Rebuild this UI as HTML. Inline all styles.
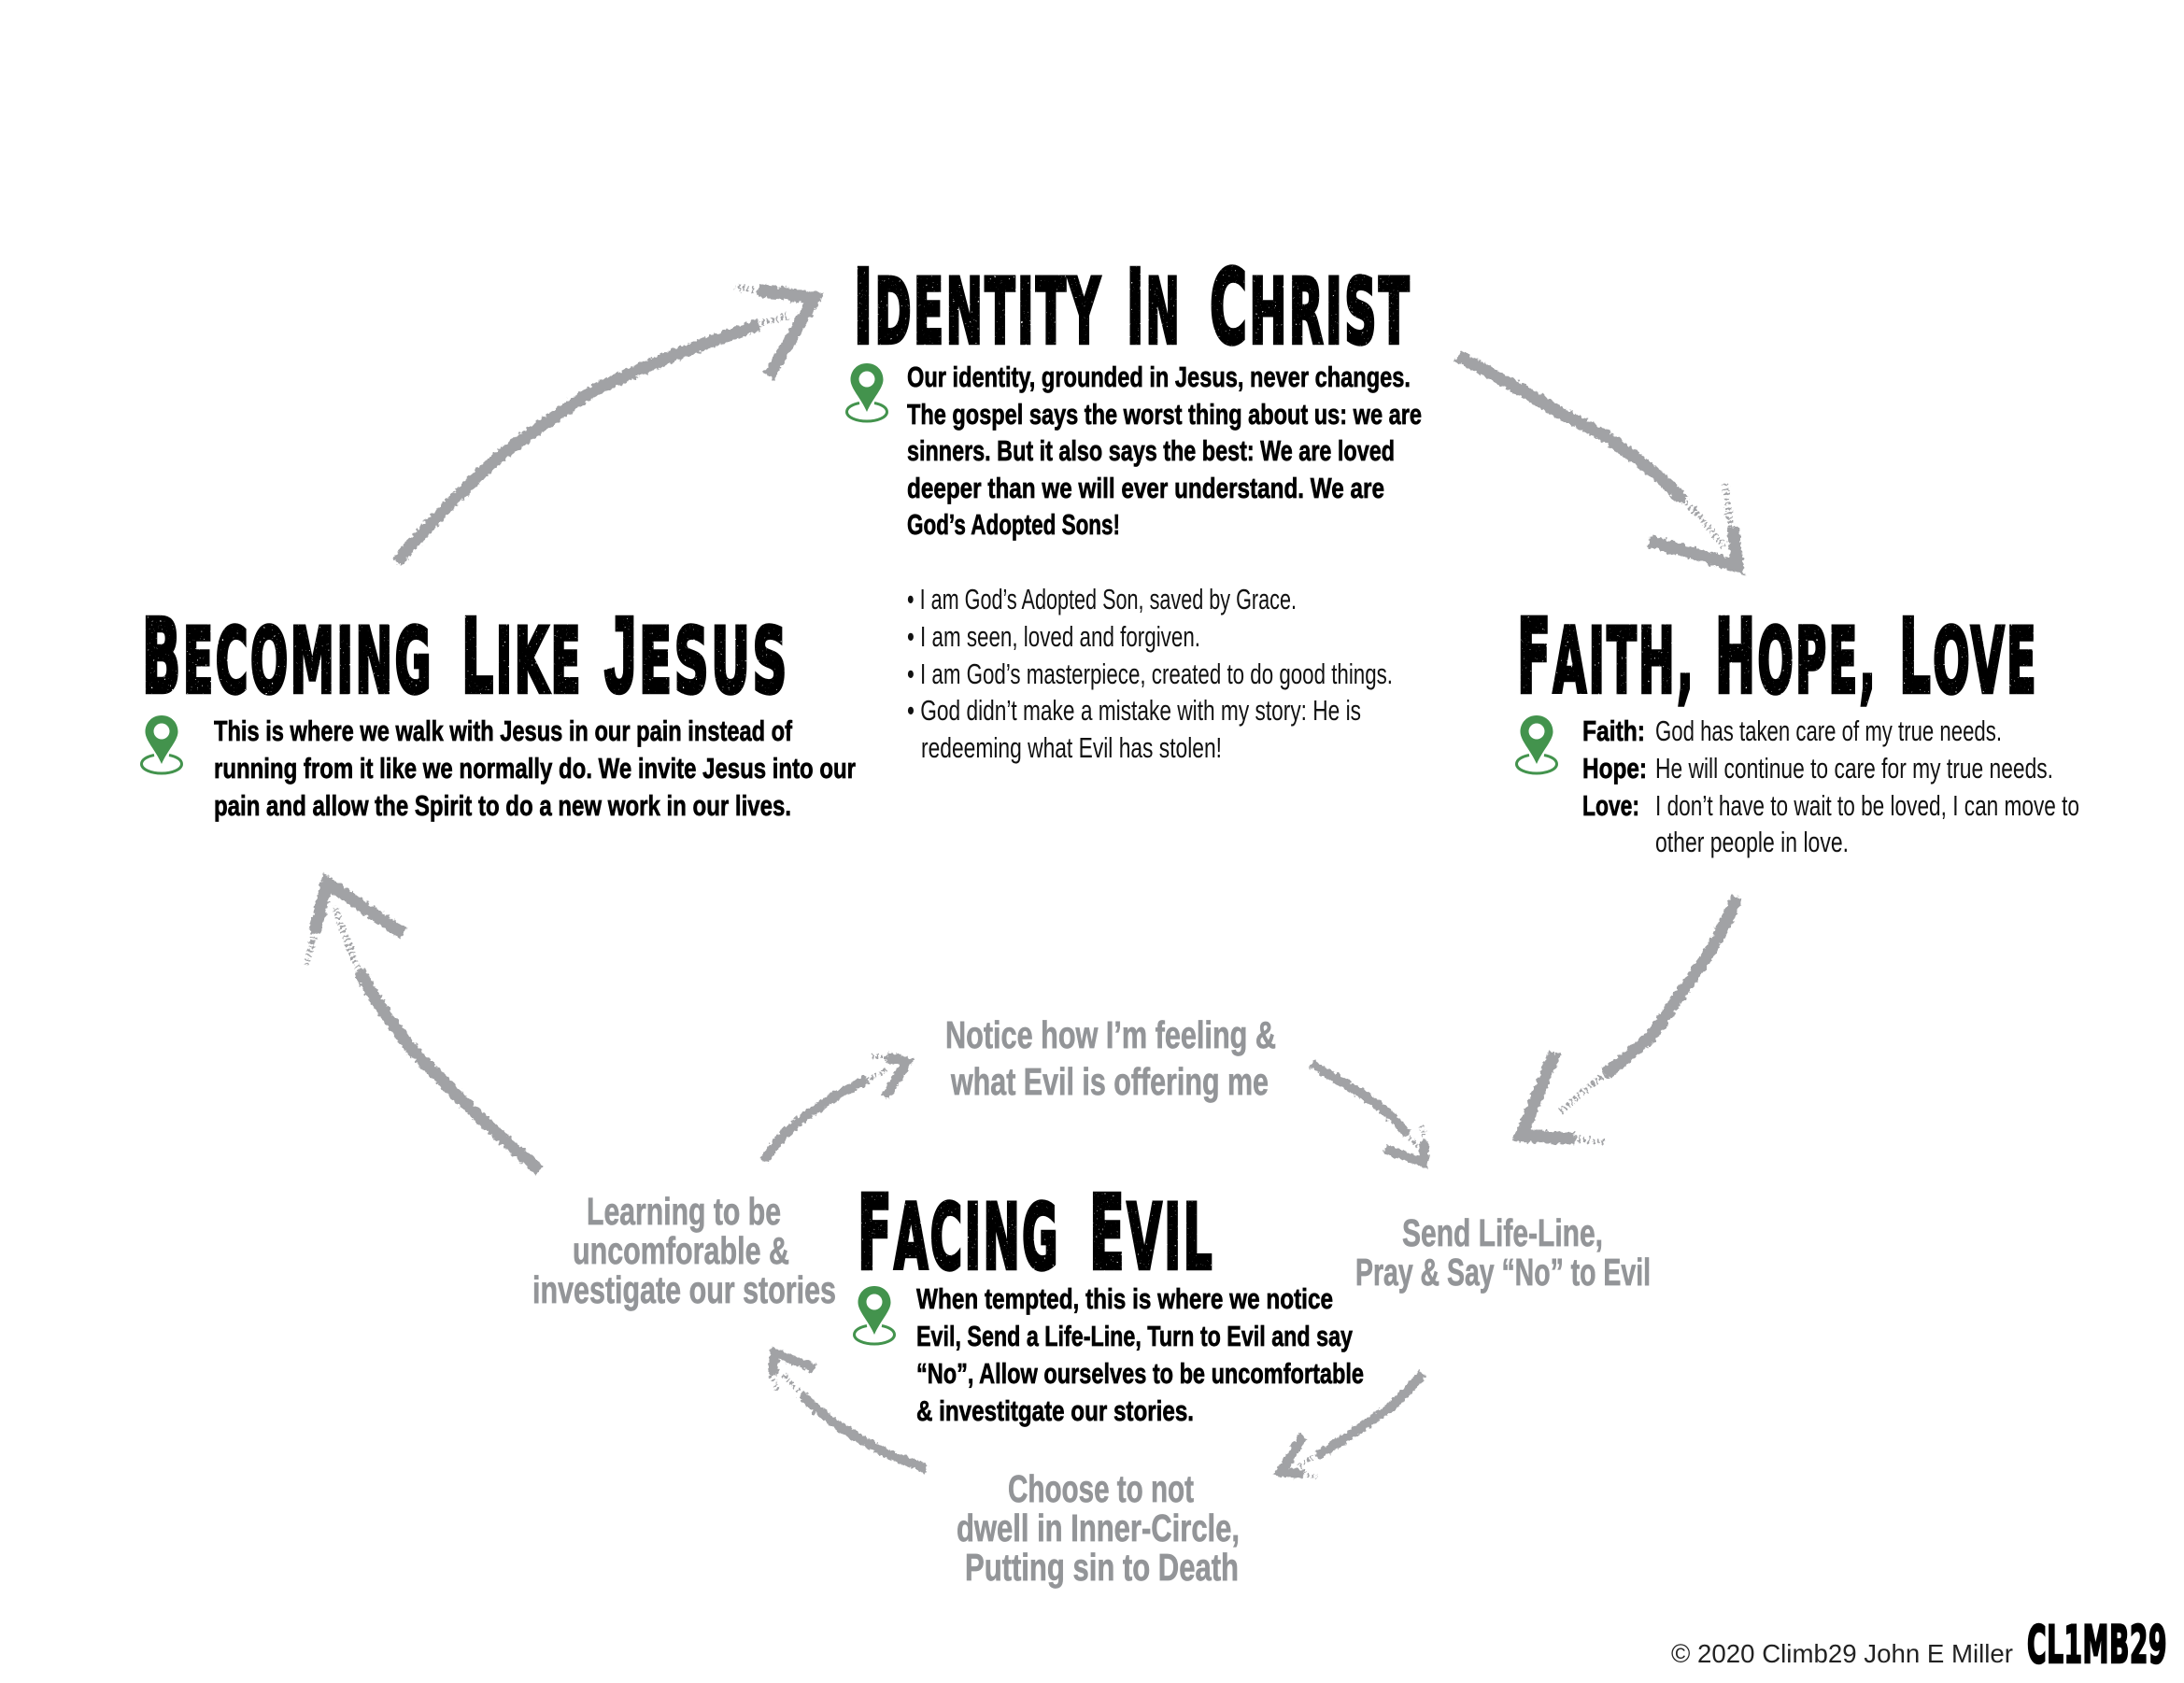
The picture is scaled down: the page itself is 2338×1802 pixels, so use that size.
<!DOCTYPE html>
<html><head><meta charset="utf-8"><title>Identity In Christ cycle</title>
<style>
html,body{margin:0;padding:0;background:#fff;width:2338px;height:1802px;overflow:hidden}
svg{display:block}
text{font-family:"Liberation Sans Narrow","Liberation Sans",sans-serif}
.t text{font-family:"DejaVu Sans","Liberation Sans",sans-serif;font-weight:bold;font-size:96px;fill:#000;stroke:#000;stroke-width:4.500px;letter-spacing:5px}
.t tspan{font-size:110px}
.t tspan.j{font-family:"Liberation Sans",sans-serif;font-size:116px}
.b{font-weight:bold;font-size:31px;fill:#000;stroke:#000;stroke-width:.7px}
.r{font-size:31px;fill:#111}
.g{font-weight:bold;font-size:41px;fill:#939598;stroke:#939598;stroke-width:.7px}
.a path{fill:none;stroke:#a1a2a5;stroke-linecap:butt;stroke-linejoin:miter}
.s path{stroke-width:13}
.i path{stroke-width:10}
.a path.f{stroke-width:7;stroke-dasharray:2 3}
.i path.f{stroke-width:5;stroke-dasharray:2 3}
</style></head><body>
<svg xmlns="http://www.w3.org/2000/svg" width="2338" height="1802" viewBox="0 0 2338 1802">
<defs>
<filter id="rough" x="-10%" y="-10%" width="120%" height="120%"><feTurbulence type="fractalNoise" baseFrequency="0.22" numOctaves="3" seed="4" result="n"/><feDisplacementMap in="SourceGraphic" in2="n" scale="7" xChannelSelector="R" yChannelSelector="G"/></filter>
<filter id="speck" x="-2%" y="-5%" width="104%" height="110%"><feTurbulence type="fractalNoise" baseFrequency="0.45" numOctaves="2" seed="7" result="n"/><feColorMatrix in="n" type="matrix" values="0 0 0 0 0  0 0 0 0 0  0 0 0 0 0  12 0 0 0 -8.700" result="m"/><feComposite in="SourceGraphic" in2="m" operator="out"/></filter>
<g id="pin"><path d="M0 0C-10.500 0-17.500 8-17.500 17.500C-17.500 27-6.500 37 0 52C6.500 37 17.500 27 17.500 17.500C17.500 8 10.500 0 0 0Z" fill="#43934d"/><circle cx="0" cy="17" r="8.500" fill="#fff"/><path d="M-8 42.500C-16 44-21.500 47.500-21.500 52C-21.500 58-11 62 0 62C11 62 21.500 58 21.500 52C21.500 47.500 16 44 8 42.500" fill="none" stroke="#43934d" stroke-width="3"/></g>
</defs>

<g filter="url(#rough)" class="a">
<g class="s">
<path d="M1561 381C1595 400 1625 415 1655 433C1685 452 1712 460 1735 479C1765 500 1785 518 1802 535"/>
<path class="f" d="M1802 535C1815 548 1830 565 1845 585"/>
<path d="M1765 579L1860 606L1855 565"/>
<path class="f" d="M1853 565L1847 518"/>

<path d="M1860 960C1843 1000 1825 1030 1807 1053C1790 1077 1775 1100 1767 1110C1750 1125 1735 1138 1718 1150"/>
<path class="f" d="M1718 1150C1700 1165 1685 1177 1670 1190"/>
<path d="M1665 1127L1628 1216L1685 1219"/>
<path class="f" d="M1685 1219L1717 1223"/>

<path d="M578 1253C545 1225 510 1195 477 1160C460 1142 445 1130 433 1113C415 1090 398 1065 385 1040"/>
<path class="f" d="M385 1040C376 1020 366 995 358 970"/>
<path d="M432 1000L350 945L337 998"/>
<path class="f" d="M337 998L328 1033"/>

<path d="M425 602C460 560 495 525 533 490C565 465 600 442 633 420C660 405 695 392 723 380C755 367 785 357 812 348"/>
<path class="f" d="M812 348C822 344 835 340 845 337"/>
<path d="M823 403L872 319L812 311"/>
<path class="f" d="M812 311L787 307"/>
</g>
<g class="i">
<path d="M1403 1138C1415 1146 1430 1154 1443 1162C1455 1170 1465 1176 1477 1185C1490 1195 1498 1204 1506 1214"/>
<path class="f" d="M1506 1214L1517 1227"/>
<path d="M1482 1230L1524 1245L1525 1222"/>
<path class="f" d="M1525 1222L1522 1205"/>

<path d="M1523 1470C1510 1485 1500 1497 1487 1507C1478 1515 1468 1522 1457 1528C1442 1539 1425 1550 1410 1558"/>
<path class="f" d="M1410 1558L1390 1570"/>
<path d="M1395 1538L1371 1576L1395 1578"/>
<path class="f" d="M1395 1578L1410 1582"/>

<path d="M818 1242C828 1228 838 1215 850 1205C862 1195 875 1186 887 1178C900 1170 915 1162 928 1156"/>
<path class="f" d="M928 1156L950 1145"/>
<path d="M947 1175L971 1137L950 1132"/>
<path class="f" d="M950 1132L930 1132"/>

<path d="M992 1573C975 1566 958 1560 943 1553C930 1546 916 1538 903 1530C885 1518 870 1506 858 1493"/>
<path class="f" d="M858 1493L840 1473"/>
<path d="M872 1465L830 1449L827 1472"/>
<path class="f" d="M827 1472L832 1490"/>
</g>
</g>

<g class="t" filter="url(#speck)">
<text x="914" y="367" textLength="266" lengthAdjust="spacingAndGlyphs"><tspan>I</tspan>DENTITY</text>
<text x="1206" y="367" textLength="59" lengthAdjust="spacingAndGlyphs"><tspan>I</tspan>N</text>
<text x="1295" y="367" textLength="216" lengthAdjust="spacingAndGlyphs"><tspan>C</tspan>HRIST</text>
<text x="152" y="741" textLength="312" lengthAdjust="spacingAndGlyphs"><tspan>B</tspan>ECOMING</text>
<text x="494" y="741" textLength="130" lengthAdjust="spacingAndGlyphs"><tspan>L</tspan>IKE</text>
<text x="647" y="741" textLength="198" lengthAdjust="spacingAndGlyphs"><tspan class="j">J</tspan>ESUS</text>
<text x="1624" y="741" textLength="191" lengthAdjust="spacingAndGlyphs"><tspan>F</tspan>AITH,</text>
<text x="1836" y="741" textLength="174" lengthAdjust="spacingAndGlyphs"><tspan>H</tspan>OPE,</text>
<text x="2033" y="741" textLength="149" lengthAdjust="spacingAndGlyphs"><tspan>L</tspan>OVE</text>
<text x="918" y="1358" textLength="217" lengthAdjust="spacingAndGlyphs"><tspan>F</tspan>ACING</text>
<text x="1166" y="1358" textLength="134" lengthAdjust="spacingAndGlyphs"><tspan>E</tspan>VIL</text>
</g>

<use href="#pin" x="928" y="389"/>
<use href="#pin" x="173" y="766"/>
<use href="#pin" x="1645" y="766"/>
<use href="#pin" x="936" y="1377"/>

<text class="b" x="971" y="414" textLength="539" lengthAdjust="spacingAndGlyphs">Our identity, grounded in Jesus, never changes.</text>
<text class="b" x="971" y="454" textLength="551" lengthAdjust="spacingAndGlyphs">The gospel says the worst thing about us: we are</text>
<text class="b" x="971" y="493" textLength="522" lengthAdjust="spacingAndGlyphs">sinners. But it also says the best: We are loved</text>
<text class="b" x="971" y="533" textLength="511" lengthAdjust="spacingAndGlyphs">deeper than we will ever understand. We are</text>
<text class="b" x="971" y="572" textLength="228" lengthAdjust="spacingAndGlyphs">God’s Adopted Sons!</text>

<text class="r" x="971" y="652" textLength="417" lengthAdjust="spacingAndGlyphs">• I am God’s Adopted Son, saved by Grace.</text>
<text class="r" x="971" y="692" textLength="314" lengthAdjust="spacingAndGlyphs">• I am seen, loved and forgiven.</text>
<text class="r" x="971" y="732" textLength="520" lengthAdjust="spacingAndGlyphs">• I am God’s masterpiece, created to do good things.</text>
<text class="r" x="971" y="771" textLength="486" lengthAdjust="spacingAndGlyphs">• God didn’t make a mistake with my story: He is</text>
<text class="r" x="986" y="811" textLength="322" lengthAdjust="spacingAndGlyphs">redeeming what Evil has stolen!</text>

<text class="b" x="229" y="793" textLength="619" lengthAdjust="spacingAndGlyphs">This is where we walk with Jesus in our pain instead of</text>
<text class="b" x="229" y="833" textLength="687" lengthAdjust="spacingAndGlyphs">running from it like we normally do. We invite Jesus into our</text>
<text class="b" x="229" y="873" textLength="618" lengthAdjust="spacingAndGlyphs">pain and allow the Spirit to do a new work in our lives.</text>

<text class="b" x="1694" y="793" textLength="67" lengthAdjust="spacingAndGlyphs">Faith:</text>
<text class="r" x="1772" y="793" textLength="371" lengthAdjust="spacingAndGlyphs">God has taken care of my true needs.</text>
<text class="b" x="1694" y="833" textLength="69" lengthAdjust="spacingAndGlyphs">Hope:</text>
<text class="r" x="1772" y="833" textLength="426" lengthAdjust="spacingAndGlyphs">He will continue to care for my true needs.</text>
<text class="b" x="1694" y="873" textLength="61" lengthAdjust="spacingAndGlyphs">Love:</text>
<text class="r" x="1772" y="873" textLength="454" lengthAdjust="spacingAndGlyphs">I don’t have to wait to be loved, I can move to</text>
<text class="r" x="1772" y="912" textLength="207" lengthAdjust="spacingAndGlyphs">other people in love.</text>

<text class="b" x="981" y="1401" textLength="446" lengthAdjust="spacingAndGlyphs">When tempted, this is where we notice</text>
<text class="b" x="981" y="1441" textLength="467" lengthAdjust="spacingAndGlyphs">Evil, Send a Life-Line, Turn to Evil and say</text>
<text class="b" x="981" y="1481" textLength="479" lengthAdjust="spacingAndGlyphs">“No”, Allow ourselves to be uncomfortable</text>
<text class="b" x="981" y="1521" textLength="297" lengthAdjust="spacingAndGlyphs">&amp; investitgate our stories.</text>

<text class="g" x="1012" y="1122" textLength="354" lengthAdjust="spacingAndGlyphs">Notice how I’m feeling &amp;</text>
<text class="g" x="1018" y="1172" textLength="340" lengthAdjust="spacingAndGlyphs">what Evil is offering me</text>
<text class="g" x="1501" y="1334" textLength="215" lengthAdjust="spacingAndGlyphs">Send Life-Line,</text>
<text class="g" x="1451" y="1376" textLength="316" lengthAdjust="spacingAndGlyphs">Pray &amp; Say “No” to Evil</text>
<text class="g" x="628" y="1311" textLength="208" lengthAdjust="spacingAndGlyphs">Learning to be</text>
<text class="g" x="613" y="1353" textLength="232" lengthAdjust="spacingAndGlyphs">uncomforable &amp;</text>
<text class="g" x="570" y="1395" textLength="325" lengthAdjust="spacingAndGlyphs">investigate our stories</text>
<text class="g" x="1079" y="1608" textLength="199" lengthAdjust="spacingAndGlyphs">Choose to not</text>
<text class="g" x="1024" y="1650" textLength="303" lengthAdjust="spacingAndGlyphs">dwell in Inner-Circle,</text>
<text class="g" x="1033" y="1692" textLength="293" lengthAdjust="spacingAndGlyphs">Putting sin to Death</text>

<text x="1789" y="1780" font-size="28" fill="#222" textLength="366" lengthAdjust="spacingAndGlyphs" style="font-family:'Liberation Sans',sans-serif">© 2020 Climb29 John E Miller</text>
<text x="2170" y="1780" font-size="55" font-weight="bold" fill="#000" stroke="#000" stroke-width="2.500" letter-spacing="1" textLength="150" lengthAdjust="spacingAndGlyphs" style="font-family:'DejaVu Sans',sans-serif">CL1MB29</text>
</svg>
</body></html>
